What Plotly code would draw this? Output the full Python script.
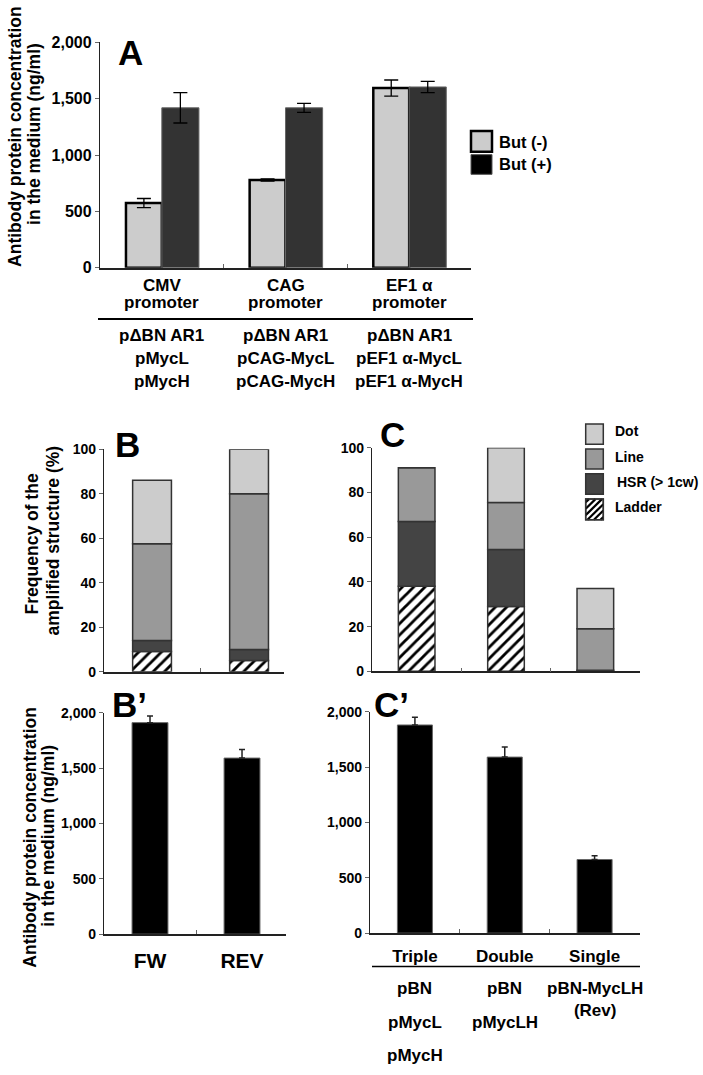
import numpy as np
import plotly.graph_objects as go

W, H = 703, 1075
F = "Liberation Sans, Arial, Helvetica, sans-serif"

# ---------------- data ----------------
A_categories = ["CMV", "CAG", "EF1 α"]
A_sublabel = "promoter"
A_but_minus = [575, 780, 1595]
A_but_minus_err = [40, 10, 72]
A_but_plus = [1420, 1420, 1605]
A_but_plus_err = [135, 40, 50]
A_constructs = [["pΔBN AR1", "pMycL", "pMycH"],
                ["pΔBN AR1", "pCAG-MycL", "pCAG-MycH"],
                ["pΔBN AR1", "pEF1 α-MycL", "pEF1 α-MycH"]]
conc_ticks = [0, 500, 1000, 1500, 2000]

structure_names = ["Ladder", "HSR (> 1cw)", "Line", "Dot"]
B_categories = ["FW", "REV"]
B_ladder = [9, 5]
B_hsr = [5, 5]
B_line = [43.5, 70]
B_dot = [28.5, 20]
C_categories = ["Triple", "Double", "Single"]
C_ladder = [38, 29, 0]
C_hsr = [29, 25.5, 0.5]
C_line = [24, 21, 18.5]
C_dot = [0, 24.5, 18]
freq_ticks = [0, 20, 40, 60, 80, 100]

Bp_values = [1910, 1590]
Bp_err = [60, 77]
Cp_values = [1880, 1590, 665]
Cp_err = [70, 90, 35]
Cp_constructs = [["pBN", "pMycL", "pMycH"], ["pBN", "pMycLH"], ["pBN-MycLH<br>(Rev)"]]

# ---------------- helpers ----------------
def px(x):
    return x / W

def py(y):
    return 1 - y / H

def xd(a, b):
    return [a / W, b / W]

def yd(top, bottom):
    return [1 - bottom / H, 1 - top / H]

def bfont(size, color="black"):
    return dict(family=F, size=size, color=color, weight="bold")

annotations = []
shapes = []

def ann(text, x, y, size, xref="paper", xanchor="center", yanchor="middle", angle=0):
    annotations.append(dict(text=text, x=(px(x) if xref == "paper" else x), y=py(y),
                            xref=xref, yref="paper", xanchor=xanchor, yanchor=yanchor,
                            textangle=angle, showarrow=False, font=bfont(size)))

def rect(x0, y0, x1, y1, fill, line, lw):
    shapes.append(dict(type="rect", xref="paper", yref="paper", x0=px(x0), x1=px(x1),
                       y0=py(y1), y1=py(y0), fillcolor=fill, line=dict(color=line, width=lw)))

def hline(x0, x1, y, lw=1.5, color="black"):
    shapes.append(dict(type="line", xref="paper", yref="paper", x0=px(x0), x1=px(x1),
                       y0=py(y), y1=py(y), line=dict(color=color, width=lw)))

fig = go.Figure()

# ---------------- Panel A ----------------
fig.add_trace(go.Bar(x=A_categories, y=A_but_minus, width=0.29, offset=-0.29, name="But (-)",
                     marker=dict(color="#cccccc", line=dict(color="black", width=2.5)),
                     error_y=dict(type="data", array=A_but_minus_err, color="black", thickness=1.3, width=7),
                     xaxis="x", yaxis="y", showlegend=False))
fig.add_trace(go.Bar(x=A_categories, y=A_but_plus, width=0.3, offset=0.0, name="But (+)",
                     marker=dict(color="#333333", line=dict(color="#666666", width=1)),
                     error_y=dict(type="data", array=A_but_plus_err, color="black", thickness=1.3, width=7),
                     xaxis="x", yaxis="y", showlegend=False))

# ---------------- Panels B and C (stacked) ----------------
seg_style = {
    "Ladder": dict(color="white", pattern=dict(shape="/", fgcolor="black", bgcolor="white",
                                               size=8, solidity=0.35, fillmode="replace")),
    "HSR (> 1cw)": dict(color="#444444"),
    "Line": dict(color="#999999"),
    "Dot": dict(color="#cccccc"),
}

def stacked(cats, series, xa, ya, width):
    base = np.zeros(len(cats))
    for name, vals in zip(structure_names, series):
        vals = np.array(vals, dtype=float)
        mk = dict(seg_style[name])
        mk["line"] = dict(color="#333333", width=1.5)
        fig.add_trace(go.Bar(x=cats, y=vals, base=base.copy(), width=width, name=name,
                             marker=mk, xaxis=xa, yaxis=ya, showlegend=False))
        base = base + vals

stacked(B_categories, [B_ladder, B_hsr, B_line, B_dot], "x2", "y2", 0.4)
stacked(C_categories, [C_ladder, C_hsr, C_line, C_dot], "x3", "y3", 0.41)

# ---------------- Panels B' and C' ----------------
fig.add_trace(go.Bar(x=B_categories, y=Bp_values, width=0.39, name="B'",
                     marker=dict(color="black", line=dict(color="#666666", width=1)),
                     error_y=dict(type="data", symmetric=False, array=Bp_err, arrayminus=[0] * len(Bp_err),
                                  color="#222222", thickness=1.5, width=3),
                     xaxis="x4", yaxis="y4", showlegend=False))
fig.add_trace(go.Bar(x=C_categories, y=Cp_values, width=0.39, name="C'",
                     marker=dict(color="black", line=dict(color="#666666", width=1)),
                     error_y=dict(type="data", symmetric=False, array=Cp_err, arrayminus=[0] * len(Cp_err),
                                  color="#222222", thickness=1.5, width=3),
                     xaxis="x5", yaxis="y5", showlegend=False))

# ---------------- axes ----------------
def xaxis(domain, rng, anchor, labels=False, size=16, standoff=6):
    return dict(domain=domain, range=rng, anchor=anchor, type="category",
                showline=True, linecolor="#222222", linewidth=1.6,
                ticks="inside", tickson="boundaries", ticklen=4, tickcolor="#666666",
                showgrid=False, zeroline=False, showticklabels=labels,
                tickfont=bfont(size), ticklabelstandoff=standoff, fixedrange=True)

def yaxis(domain, rng, anchor, tickvals, size):
    return dict(domain=domain, range=rng, anchor=anchor,
                showline=True, linecolor="#222222", linewidth=1.4,
                ticks="outside", ticklen=4, tickcolor="#666666",
                tickvals=tickvals, tickformat=",d", tickfont=bfont(size),
                showgrid=False, zeroline=False, fixedrange=True)

fig.update_layout(
    xaxis=xaxis(xd(100, 471), [-0.5, 2.5], "y"),
    yaxis=yaxis(yd(35, 264), [0, 2000], "x", conc_ticks, 16),
    xaxis2=xaxis(xd(104, 284), [-0.495, 1.36], "y2"),
    yaxis2=yaxis(yd(448.3, 674.3), [0, 100], "x2", freq_ticks, 14),
    xaxis3=xaxis(xd(372, 640), [-0.5, 2.5], "y3"),
    yaxis3=yaxis(yd(446.7, 674), [0, 100], "x3", freq_ticks, 14),
    xaxis4=xaxis(xd(104, 286), [-0.5, 1.478], "y4", labels=True, size=21, standoff=7),
    yaxis4=yaxis(yd(716, 941), [0, 2000], "x4", conc_ticks, 14),
    xaxis5=xaxis(xd(370, 639.5), [-0.5, 2.5], "y5", labels=True, size=17, standoff=7),
    yaxis5=yaxis(yd(715, 940), [0, 2000], "x5", conc_ticks, 14),
)

# ---------------- text ----------------
# panel letters
ann("A", 116, 45, 35, xanchor="left")
ann("B", 113, 444, 35, xanchor="left")
ann("C", 378, 433, 35, xanchor="left")
ann("B’", 110, 708, 35, xanchor="left")
ann("C’", 372, 708, 35, xanchor="left")

# y titles
ann("Antibody protein concentration", 15, 131, 17.5, angle=-90)
ann("in the medium (ng/ml)", 34, 128, 17.5, angle=-90)
ann("Frequency of the", 32, 545, 17.5, angle=-90)
ann("amplified structure (%)", 53, 541, 17.5, angle=-90)
ann("Antibody protein concentration", 30, 843, 17.5, angle=-90)
ann("in the medium (ng/ml)", 48, 841, 17.5, angle=-90)

# panel A category labels & constructs
for cat, rows in zip(A_categories, A_constructs):
    ann(cat, cat, 282, 17, xref="x")
    ann(A_sublabel, cat, 299, 17, xref="x")
    for i, r in enumerate(rows):
        ann(r, cat, 333 + 23.5 * i, 17, xref="x")
hline(98, 473, 316, lw=2)

# panel C' constructs
for cat, rows in zip(C_categories, Cp_constructs):
    for i, r in enumerate(rows):
        ann(r, cat, 985 + 33.7 * i, 17, xref="x5", yanchor="top")
hline(372, 640, 974, lw=1.5)

# legend A
rect(471, 125, 492, 146, "#cccccc", "black", 2.5)
rect(471, 149, 492, 169, "black", "#555555", 1)
ann("But (-)", 497, 136, 16.5, xanchor="left")
ann("But (+)", 497, 159, 16.5, xanchor="left")

# legend C
leg_boxes = [(422.7, 443.3), (448, 468.3), (473.3, 494), (499, 520)]
leg_names = ["Dot", "Line", "HSR (> 1cw)", "Ladder"]
leg_text_y = [430, 456, 481.5, 507.5]
leg_text_x = [613, 613, 615, 613]
lx0, lx1 = 585.7, 603.3
for name, (t, b), ty, tx in zip(leg_names, leg_boxes, leg_text_y, leg_text_x):
    if name == "Ladder":
        rect(lx0, t, lx1, b, "white", "#333333", 1.5)
        step = 6.5
        c = lx0 + t + step / 2
        while c < lx1 + b:
            xb, yb = c - b, b
            if xb < lx0:
                xb, yb = lx0, c - lx0
            xt, yt = c - t, t
            if xt > lx1:
                xt, yt = lx1, c - lx1
            shapes.append(dict(type="line", xref="paper", yref="paper", x0=px(xb), y0=py(yb),
                               x1=px(xt), y1=py(yt), line=dict(color="black", width=2.2)))
            c += step
        rect(lx0, t, lx1, b, "rgba(0,0,0,0)", "#333333", 1.5)
    else:
        rect(lx0, t, lx1, b, seg_style[name]["color"], "#333333", 1.5)
    ann(name, tx, ty, 14, xanchor="left")

fig.update_layout(
    width=W, height=H, autosize=False,
    margin=dict(l=0, r=0, t=0, b=0),
    paper_bgcolor="white", plot_bgcolor="white",
    barmode="overlay", showlegend=False,
    font=dict(family=F, color="black"),
    annotations=annotations, shapes=shapes,
)

fig.write_html("out.html", config={"displayModeBar": False},
               post_script="document.body.style.margin='0';document.body.style.padding='0';")
